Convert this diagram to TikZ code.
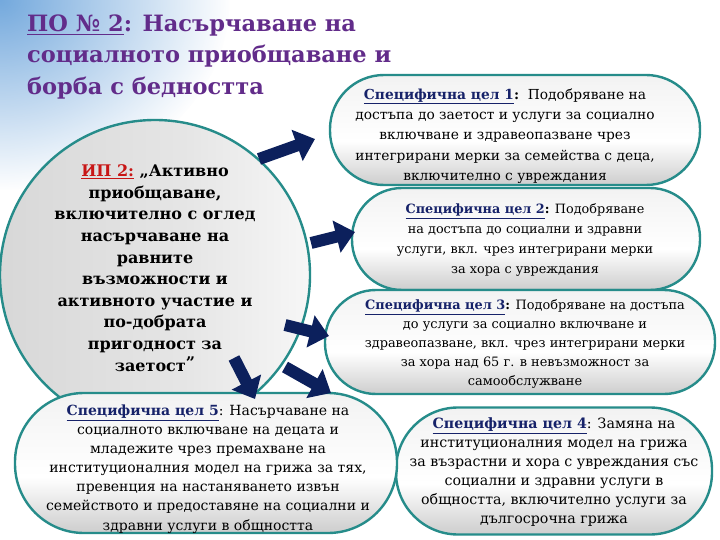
\documentclass[tikz,border=0pt]{standalone}
\usepackage{fontspec}
\setmainfont{DejaVu Serif}
\usetikzlibrary{arrows.meta,fadings}
\definecolor{tealb}{RGB}{38,140,138}
\definecolor{navyarr}{RGB}{12,32,92}
\definecolor{navytxt}{RGB}{22,34,105}
\definecolor{purp}{RGB}{98,44,138}
\definecolor{redip}{RGB}{200,22,22}
\definecolor{bgb}{RGB}{70,140,210}
\pgfdeclareverticalshading{pillshade}{100bp}{color(0bp)=(gray!70); color(22bp)=(gray!45); color(45bp)=(white); color(70bp)=(white!92!gray); color(100bp)=(gray!22)}
\pgfdeclarehorizontalshading{circshade}{100bp}{color(0bp)=(gray!40); color(55bp)=(gray!20); color(85bp)=(white); color(100bp)=(gray!15)}
\pgfdeclarehorizontalshading{bgshade}{100bp}{color(0bp)=(bgb!55); color(8bp)=(bgb!25); color(20bp)=(white); color(88bp)=(white); color(95bp)=(bgb!35); color(100bp)=(bgb!80)}
\tikzfading[name=fadedown, top color=transparent!0, bottom color=transparent!100]
\tikzfading[name=fadecirc, inner color=transparent!0, outer color=transparent!100]
\tikzset{
  pill/.style={draw=tealb, line width=2.4pt, rectangle, shading=pillshade, inner sep=0pt},
  pilltext/.style={align=center, inner sep=0pt},
  circtext/.style={align=center, inner sep=0pt, font=\bfseries\fontsize{16}{21.6}\selectfont},
  titletext/.style={anchor=base west, inner sep=0pt, text=purp, font=\bfseries\fontsize{22.5}{27}\selectfont},
  blockarrow/.style={draw=navyarr, line width=12pt, -{Triangle[length=19pt,width=32pt]}}
}
\newcommand{\goal}[1]{\textcolor{navytxt}{\textbf{\underline{Специфична цел #1}}}}
\begin{document}
\begin{tikzpicture}[x=1pt,y=-1pt]
\useasboundingbox (0,0) rectangle (720,540);
% background
\shade[shading=bgshade] (0,0) rectangle (720,540);
\fill[white, path fading=fadedown] (600,0) rectangle (720,120);
\fill[bgb!75, path fading=fadecirc] (0,0) ellipse (230 and 190);
% title
\node[titletext] (title1) at (27,32) {\underline{ПО № 2}: Насърчаване на};
\node[titletext] (title2) at (27,63) {социалното приобщаване и};
\node[titletext] (title3) at (27,95) {борба с бедността};
% circle
\node[draw=tealb, line width=2.4pt, circle, minimum size=310pt, shading=circshade, inner sep=0pt] (ip) at (155,275) {};
\node[circtext] (iptext) at (155,268) {\textcolor{redip}{\underline{ИП 2:}} „Активно\\приобщаване,\\включително с оглед\\насърчаване на\\равните\\възможности и\\активното участие и\\по-добрата\\пригодност за\\заетост\raisebox{3pt}{”}};
% pills
\node[pill, rounded corners=54pt, minimum width=370pt, minimum height=110pt] (p1) at (515,130) {};
\node[pilltext, font=\fontsize{13.8}{20.4}\selectfont] (t1) at (505,136) {\goal{1}\textbf{:}\ \ Подобряване на\\достъпа до заетост и услуги за социално\\включване и здравеопазване чрез\\интегрирани мерки за семейства с деца,\\включително с увреждания};
\node[pill, rounded corners=50pt, minimum width=348pt, minimum height=102pt] (p2) at (526,239) {};
\node[pilltext, font=\fontsize{12.8}{19.7}\selectfont] (t2) at (525,240) {\goal{2}\textbf{:} Подобряване\\на достъпа до социални и здравни\\услуги, вкл. чрез интегрирани мерки\\за хора с увреждания};
\node[pill, rounded corners=51pt, minimum width=390pt, minimum height=104pt] (p3) at (520,342) {};
\node[pilltext, font=\fontsize{12.9}{18.8}\selectfont] (t3) at (525,344) {\goal{3}\textbf{:} Подобряване на достъпа\\до услуги за социално включване и\\здравеопазване, вкл. чрез интегрирани мерки\\за хора над 65 г. в невъзможност за\\самообслужване};
\node[pill, rounded corners=62pt, minimum width=316pt, minimum height=127pt] (p4) at (554,471) {};
\node[pilltext, font=\fontsize{14.2}{19}\selectfont] (t4) at (554,472) {\goal{4}: Замяна на\\институционалния модел на грижа\\за възрастни и хора с увреждания със\\социални и здравни услуги в\\общността, включително услуги за\\дългосрочна грижа};
\node[pill, rounded corners=69pt, minimum width=382pt, minimum height=140pt] (p5) at (206,463) {};
\node[pilltext, font=\fontsize{14}{19.1}\selectfont] (t5) at (208,469) {\goal{5}: Насърчаване на\\социалното включване на децата и\\младежите чрез премахване на\\институционалния модел на грижа за тях,\\превенция на настаняването извън\\семейството и предоставяне на социални и\\здравни услуги в общността};
% arrows
\coordinate (a1s) at (259,159); \coordinate (a1e) at (315,139);
\coordinate (a2s) at (311,243); \coordinate (a2e) at (355,232);
\coordinate (a3s) at (285,325); \coordinate (a3e) at (329,336);
\coordinate (a4s) at (285,367); \coordinate (a4e) at (331,393);
\coordinate (a5s) at (234,358); \coordinate (a5e) at (255,399);
\draw[blockarrow] (a1s) -- (a1e);
\draw[blockarrow] (a2s) -- (a2e);
\draw[blockarrow] (a3s) -- (a3e);
\draw[blockarrow] (a4s) -- (a4e);
\draw[blockarrow] (a5s) -- (a5e);
\end{tikzpicture}
\end{document}
